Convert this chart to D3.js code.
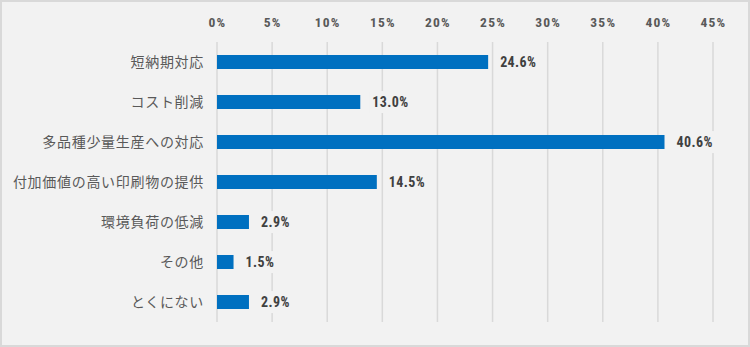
<!DOCTYPE html>
<html><head><meta charset="utf-8">
<script src="https://cdn.jsdelivr.net/npm/d3@7"></script>
<style>html,body{margin:0;padding:0;background:#fff;}svg{display:block;}</style>
</head><body>
<svg id="c" width="750" height="347"></svg>
<script>
const categories = ["短納期対応","コスト削減","多品種少量生産への対応","付加価値の高い印刷物の提供","環境負荷の低減","その他","とくにない"];
const values = [24.6, 13.0, 40.6, 14.5, 2.9, 1.5, 2.9];
const ticks = [0,5,10,15,20,25,30,35,40,45];

const narrow = "'Liberation Sans Narrow','Roboto Condensed','Liberation Sans',sans-serif";
const svg = d3.select("#c");
svg.append("rect").attr("x",1).attr("y",1).attr("width",748).attr("height",345)
  .attr("fill","#f2f2f2").attr("stroke","#d9d9d9").attr("stroke-width",2);

const x = d3.scaleLinear().domain([0,45]).range([217,713]);
const y = d3.scaleBand().domain(categories).range([42,322]).paddingInner(0.65).paddingOuter(0.325);

const g = svg.append("g");
g.selectAll("line.grid").data(ticks).join("line").attr("class","grid")
  .attr("x1",d=>x(d)).attr("x2",d=>x(d)).attr("y1",42).attr("y2",322)
  .attr("stroke","#d9d9d9").attr("stroke-width",1.5);

const ax = svg.append("g").attr("transform","translate(0,27)")
  .call(d3.axisTop(x).tickValues(ticks).tickFormat(d=>d+"%").tickSize(0).tickPadding(0));
ax.select(".domain").remove();
ax.selectAll("text").attr("fill","#595959").attr("font-family",narrow)
  .attr("font-weight","bold").attr("font-size",13.5).attr("letter-spacing",1.2).attr("dy",0);

const ay = svg.append("g").attr("transform","translate(217,0)")
  .call(d3.axisLeft(y).tickSize(0).tickPadding(13));
ay.select(".domain").remove();
ay.selectAll("text").attr("fill","#595959").attr("font-family","'Noto Sans CJK JP',sans-serif")
  .attr("font-size",14).attr("letter-spacing",0.7).attr("dy","0.35em");

svg.selectAll("rect.bar").data(values).join("rect").attr("class","bar")
  .attr("x",x(0)).attr("y",(d,i)=>y(categories[i]))
  .attr("width",d=>x(d)-x(0)).attr("height",y.bandwidth()).attr("fill","#0070c0");

const lab = svg.selectAll("g.lab").data(values).join("g").attr("class","lab")
  .attr("transform",(d,i)=>`translate(${x(d)+12},${y(categories[i])+y.bandwidth()/2})`);
lab.append("text").text(d=>d.toFixed(1)+"%")
  .attr("dy","0.36em").attr("fill","#404040")
  .attr("font-family",narrow).attr("letter-spacing",0.4)
  .attr("font-weight","bold").attr("font-size",14);
lab.each(function(){
  const t = d3.select(this).select("text").node().getBBox();
  d3.select(this).insert("rect","text").attr("x",t.x-3).attr("y",t.y-3)
    .attr("width",t.width+6).attr("height",t.height+6).attr("fill","#f2f2f2");
});
</script>
</body></html>
